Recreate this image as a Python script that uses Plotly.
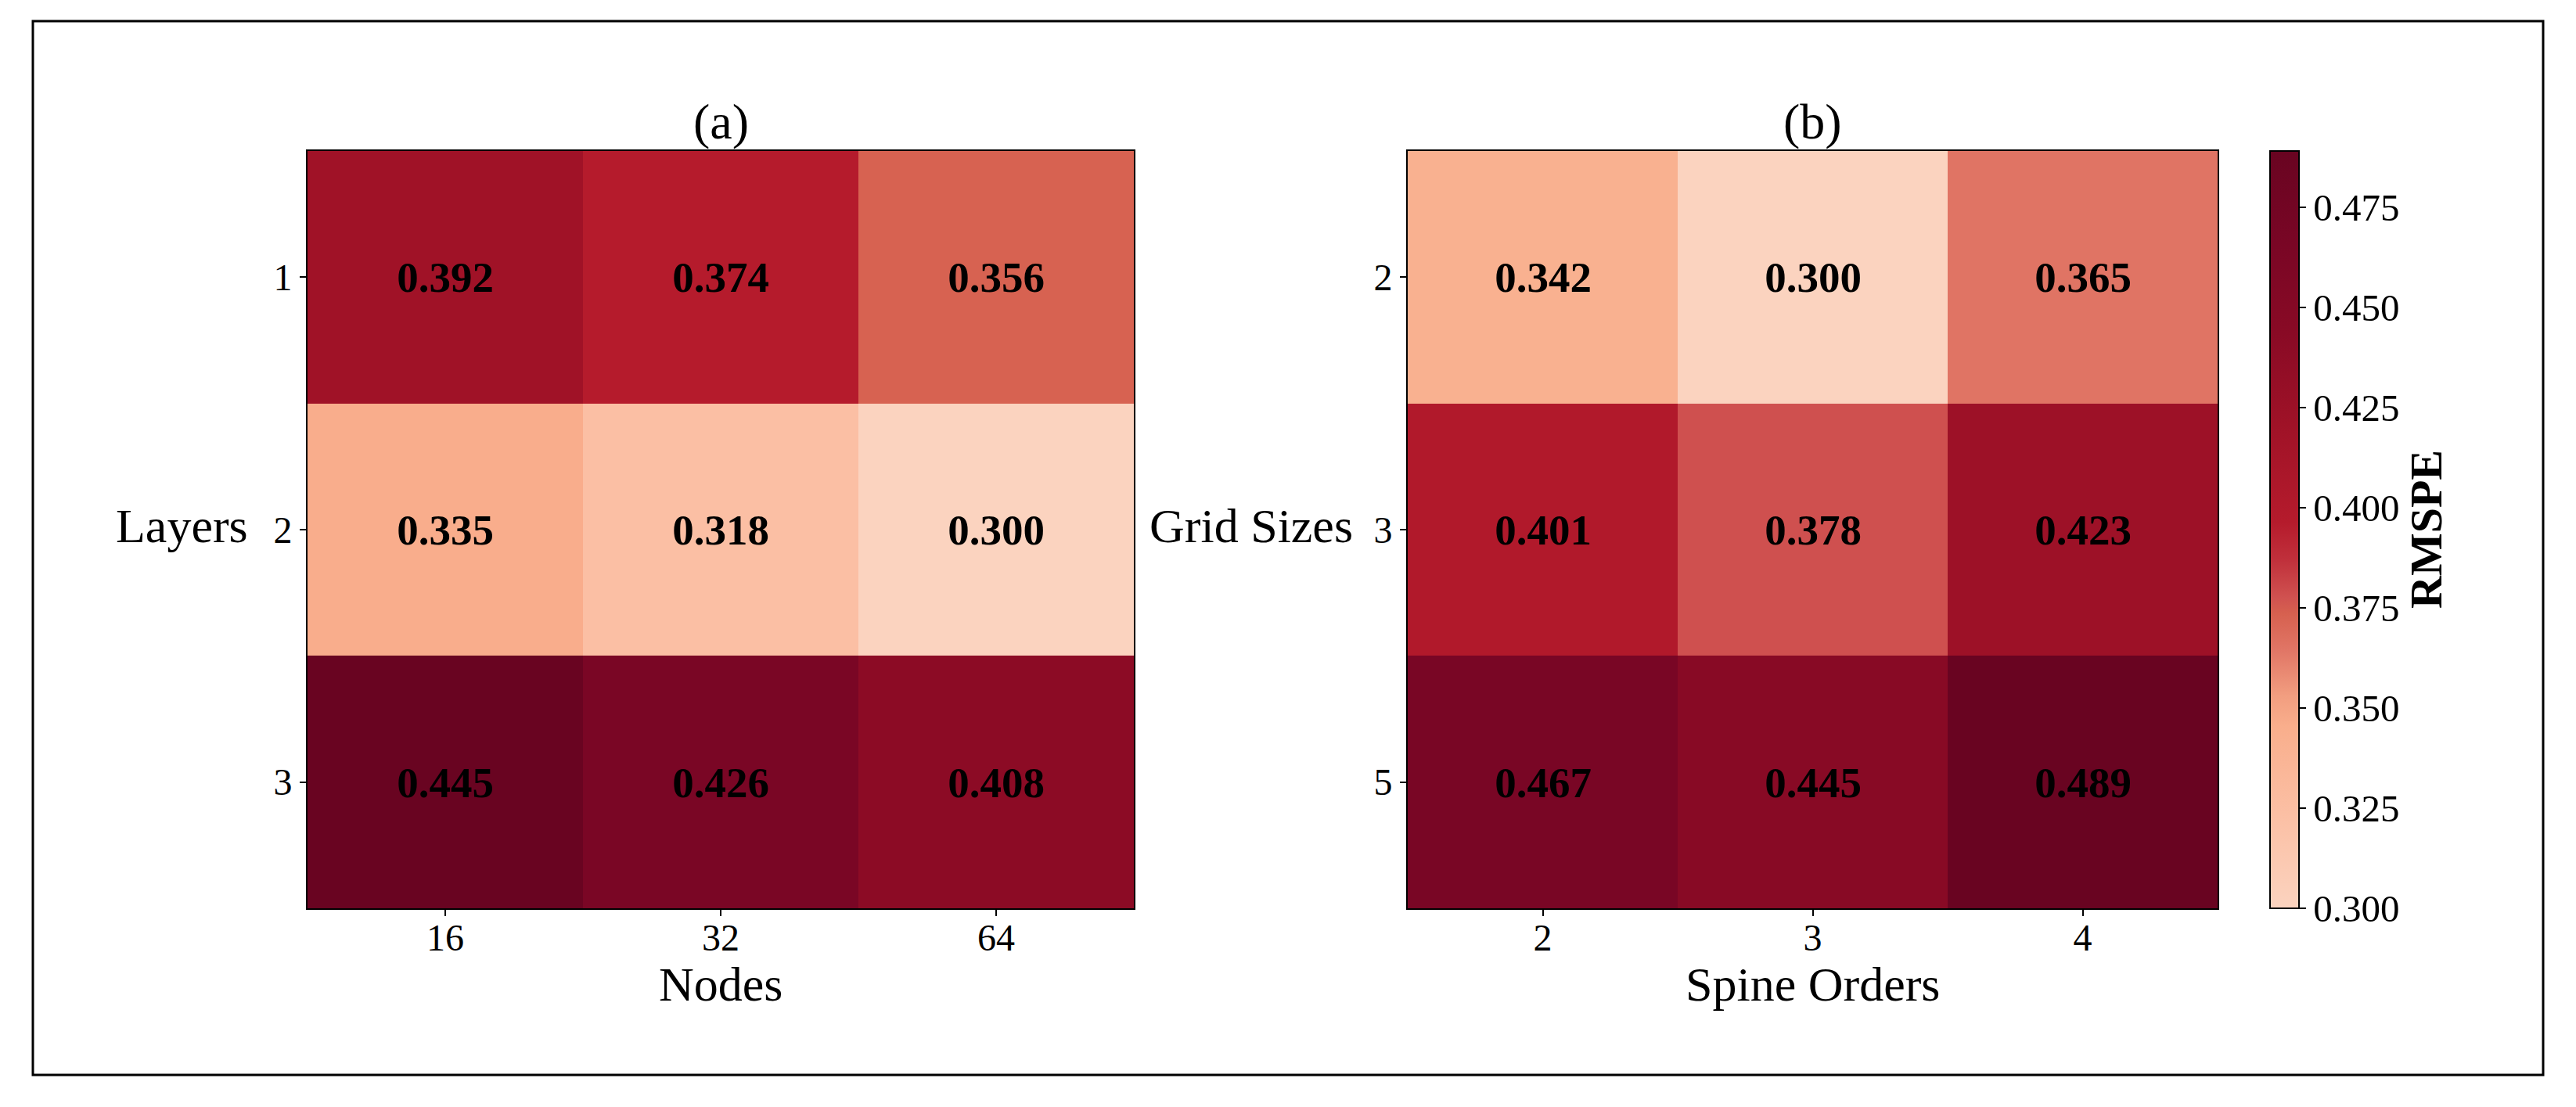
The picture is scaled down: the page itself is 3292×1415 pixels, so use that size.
import plotly.graph_objects as go

W, H = 3292, 1415

# ---- data ----
nodes = ["16", "32", "64"]
layers = ["1", "2", "3"]
rmspe_a = [
    [0.392, 0.374, 0.356],
    [0.335, 0.318, 0.300],
    [0.445, 0.426, 0.408],
]
spine_orders = ["2", "3", "4"]
grid_sizes = ["2", "3", "5"]
rmspe_b = [
    [0.342, 0.300, 0.365],
    [0.401, 0.378, 0.423],
    [0.467, 0.445, 0.489],
]
cbar_ticks = [0.300, 0.325, 0.350, 0.375, 0.400, 0.425, 0.450, 0.475]

FONT = "Liberation Serif, Times New Roman, serif"

colorscale = [
    [0.00, "#fbd3bf"], [0.12, "#fbc0a5"], [0.24, "#f9ae8c"], [0.28, "#f29e80"],
    [0.34, "#e17666"], [0.39, "#d6604f"], [0.41, "#d05250"], [0.46, "#c0303b"],
    [0.51, "#b51b2c"], [0.64, "#9f1227"], [0.76, "#890a25"], [0.88, "#790625"],
    [1.00, "#690421"],
]

def px_x(p):
    return p / W

def px_y(p):
    return 1 - p / H

fig = go.Figure()

def flat_min(m):
    return min(min(r) for r in m)

def flat_max(m):
    return max(max(r) for r in m)

fig.add_trace(go.Heatmap(
    z=rmspe_a, x=nodes, y=layers, xaxis="x", yaxis="y",
    colorscale=colorscale, zmin=flat_min(rmspe_a), zmax=flat_max(rmspe_a),
    showscale=False, texttemplate="%{z:.3f}",
    textfont=dict(family=FONT, size=55, color="black", weight="bold"),
    hoverinfo="skip",
))
fig.add_trace(go.Heatmap(
    z=rmspe_b, x=spine_orders, y=grid_sizes, xaxis="x2", yaxis="y2",
    colorscale=colorscale, zmin=flat_min(rmspe_b), zmax=flat_max(rmspe_b),
    showscale=True, texttemplate="%{z:.3f}",
    textfont=dict(family=FONT, size=55, color="black", weight="bold"),
    hoverinfo="skip",
    colorbar=dict(
        x=px_x(2901), xanchor="left", xref="paper", xpad=0,
        y=px_y(677), yanchor="middle", len=968 / H, lenmode="fraction", ypad=0,
        thickness=37, thicknessmode="pixels",
        outlinecolor="black", outlinewidth=2,
        tickvals=cbar_ticks, tickformat=".3f",
        ticks="outside", ticklen=8, tickcolor="black", tickwidth=2,
        tickfont=dict(family=FONT, size=49, color="black"),
    ),
))

axis_common = dict(
    type="category", showline=True, mirror=True, linecolor="black", linewidth=2,
    ticks="outside", ticklen=8, tickwidth=2, tickcolor="black",
    tickfont=dict(family=FONT, size=48, color="black"),
    showgrid=False, zeroline=False,
)
y0, y1 = px_y(1161), px_y(193)
fig.update_layout(
    width=W, height=H,
    margin=dict(l=0, r=0, t=0, b=0),
    paper_bgcolor="white", plot_bgcolor="white",
    xaxis=dict(domain=[px_x(393), px_x(1449)], anchor="y", ticklabelstandoff=-14, **axis_common),
    yaxis=dict(domain=[y0, y1], anchor="x", autorange="reversed", **axis_common),
    xaxis2=dict(domain=[px_x(1799), px_x(2834)], anchor="y2", ticklabelstandoff=-14, **axis_common),
    yaxis2=dict(domain=[y0, y1], anchor="x2", autorange="reversed", **axis_common),
    font=dict(family=FONT, color="black"),
)

def ann(text, x, y, size, xanchor="center", yanchor="middle", angle=0, bold=False):
    fig.add_annotation(
        text=f"<b>{text}</b>" if bold else text,
        x=px_x(x), y=px_y(y), xref="paper", yref="paper",
        xanchor=xanchor, yanchor=yanchor, showarrow=False, textangle=angle,
        borderpad=0,
        font=dict(family=FONT, size=size, color="black"),
    )

ann("(a)", 921, 155, 64)
ann("(b)", 2316, 155, 64)
ann("Nodes", 921, 1258, 62)
ann("Spine Orders", 2316, 1258, 62)
ann("Layers", 318, 672, 62, xanchor="right")
ann("Grid Sizes", 1730, 672, 62, xanchor="right")
ann("RMSPE", 3100, 677, 58, angle=-90, bold=True)

fig.add_shape(
    type="rect", xref="paper", yref="paper",
    x0=px_x(42), x1=px_x(3250), y0=px_y(1374), y1=px_y(27),
    line=dict(color="black", width=3), fillcolor="rgba(0,0,0,0)",
)

fig.write_html(
    "out.html",
    config={"displayModeBar": False},
    post_script="document.body.style.margin='0';document.body.style.overflow='hidden';",
)
